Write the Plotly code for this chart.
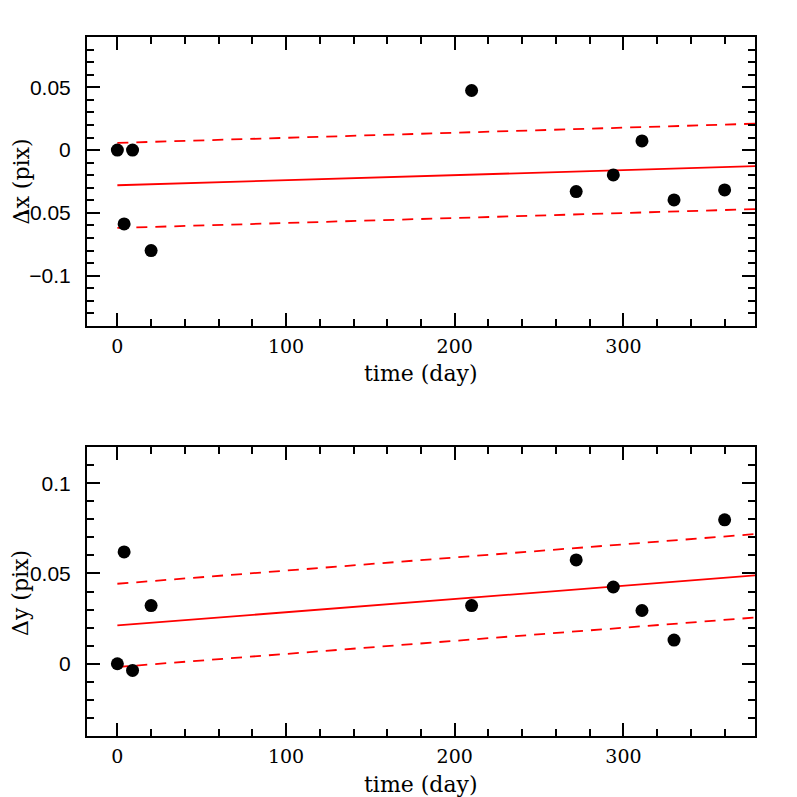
import plotly.graph_objects as go

# data
days = [0, 4, 9, 20, 210, 272, 294, 311, 330, 360]
dx = [0.0, -0.0588, 0.0, -0.080, 0.0474, -0.033, -0.0198, 0.0073, -0.0397, -0.0317]
dy = [0.0, 0.0619, -0.0037, 0.0322, 0.0322, 0.0575, 0.0425, 0.0295, 0.0131, 0.0797]

fit_x = [0, 378]
dx_fit = [-0.0280, -0.0128]
dx_upper = [0.0057, 0.0210]
dx_lower = [-0.0620, -0.0470]
dy_fit = [0.0212, 0.0489]
dy_upper = [0.0443, 0.0718]
dy_lower = [-0.0018, 0.0256]

x_ticks = [0, 100, 200, 300]
dx_ticks = [-0.1, -0.05, 0, 0.05]
dy_ticks = [0, 0.05, 0.1]

x_title = "time (day)"
dx_title = "Δx (pix)"
dy_title = "Δy (pix)"

fig = go.Figure()

def add_panel(xa, ya, yvals, fit, up, lo):
    for yy, dash in [(fit, "solid"), (up, "11px,8px"), (lo, "11px,8px")]:
        fig.add_trace(go.Scatter(x=fit_x, y=yy, mode="lines", xaxis=xa, yaxis=ya,
                                 line=dict(color="#ff0000", width=1.8, dash=dash),
                                 showlegend=False, hoverinfo="skip"))
    fig.add_trace(go.Scatter(x=days, y=yvals, mode="markers", xaxis=xa, yaxis=ya,
                             marker=dict(color="black", size=13), showlegend=False))

add_panel("x", "y", dx, dx_fit, dx_upper, dx_lower)
add_panel("x2", "y2", dy, dy_fit, dy_upper, dy_lower)

serif = "DejaVu Serif, Liberation Serif"
tickfont = dict(family="Liberation Sans, Arial", size=21, color="black")
titlefont = dict(family=serif, size=22, color="black")

def xaxis(anchor):
    return dict(range=[-18, 378], anchor=anchor, tickvals=x_ticks, ticks="inside",
                ticklen=13, tickwidth=1.5, tickcolor="black", showline=True, linewidth=2,
                linecolor="black", mirror="allticks", showgrid=False, zeroline=False,
                automargin=False,
                tickfont=dict(family=serif, size=19, color="black"),
                ticklabelstandoff=2,
                minor=dict(dtick=20, tick0=0, ticks="inside", ticklen=7, tickwidth=1.5,
                           tickcolor="black", showgrid=False))

def yaxis(anchor, rng, tv, dom):
    return dict(range=rng, anchor=anchor, domain=dom, tickvals=tv, ticks="inside",
                ticklen=13, tickwidth=1.5, tickcolor="black", showline=True, linewidth=2,
                linecolor="black", mirror="allticks", showgrid=False, zeroline=False,
                automargin=False,
                tickfont=tickfont, ticklabelstandoff=10,
                minor=dict(dtick=0.01, tick0=0, ticks="inside", ticklen=7, tickwidth=1.5,
                           tickcolor="black", showgrid=False))

ann = [
    dict(text=x_title, x=0.5, y=0.5179, xref="paper", yref="paper", showarrow=False,
         xanchor="center", yanchor="middle", font=titlefont),
    dict(text=x_title, x=0.5, y=-0.0687, xref="paper", yref="paper", showarrow=False,
         xanchor="center", yanchor="middle", font=titlefont),
    dict(text=dx_title, x=-0.0988, y=0.7933, xref="paper", yref="paper", showarrow=False,
         xanchor="center", yanchor="middle", textangle=-90, font=titlefont),
    dict(text=dy_title, x=-0.0988, y=0.2046, xref="paper", yref="paper", showarrow=False,
         xanchor="center", yanchor="middle", textangle=-90, font=titlefont),
]

# page body has an 8px margin, so the figure is offset by 8px
fig.update_layout(
    width=789, height=789,
    margin=dict(l=79, r=42, t=29, b=61),
    paper_bgcolor="white", plot_bgcolor="white",
    xaxis=xaxis("y"),
    xaxis2=xaxis("y2"),
    yaxis=yaxis("x", [-0.14, 0.09], dx_ticks, [0.5866, 1.0]),
    yaxis2=yaxis("x2", [-0.04, 0.12], dy_ticks, [0.0, 0.4134]),
    annotations=ann,
)

fig.write_html("out.html")
